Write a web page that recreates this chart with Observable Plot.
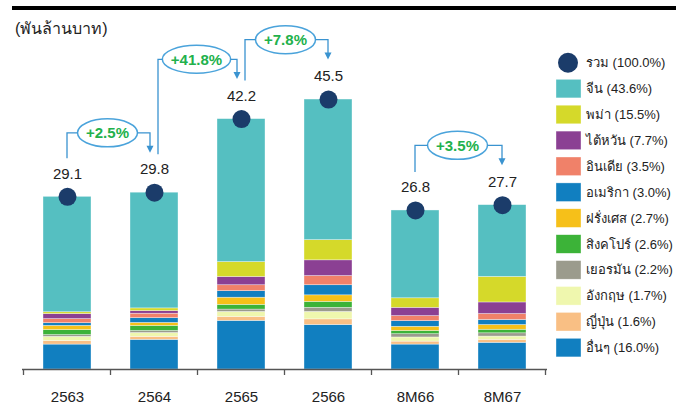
<!DOCTYPE html>
<html><head><meta charset="utf-8">
<script src="https://cdn.jsdelivr.net/npm/d3@7"></script>
<script src="https://cdn.jsdelivr.net/npm/@observablehq/plot@0.6"></script>
<style>
body{margin:0;background:#fff;}
#chart{position:relative;width:680px;height:406px;overflow:hidden;}
</style></head><body><div id="chart"></div>
<script>
// ---- data ----
const years = ["2563", "2564", "2565", "2566", "8M66", "8M67"];
const totals = [29.1, 29.8, 42.2, 45.5, 26.8, 27.7];

// stacked from bottom to top
const seriesNames = ["อื่นๆ", "ญี่ปุ่น", "อังกฤษ", "เยอรมัน", "สิงคโปร์", "ฝรั่งเศส", "อเมริกา", "อินเดีย", "ไต้หวัน", "พม่า", "จีน"];
const others    = [4.2, 5.0, 8.2, 7.5, 4.2, 4.5];
const japan     = [0.6, 0.5, 0.65, 0.95, 0.5, 0.5];
const uk        = [0.7, 0.65, 0.85, 1.25, 0.7, 0.55];
const germany   = [0.3, 0.35, 0.4, 0.7, 0.55, 0.55];
const singapore = [0.85, 0.85, 0.8, 1.0, 0.55, 0.6];
const france    = [0.7, 0.5, 1.2, 1.1, 0.7, 0.8];
const usa       = [0.45, 0.8, 1.1, 1.7, 0.95, 0.85];
const india     = [0.7, 0.75, 1.0, 1.55, 0.85, 1.0];
const taiwan    = [0.85, 0.45, 1.4, 2.65, 1.4, 1.95];
const myanmar   = [0.3, 0.45, 2.5, 3.4, 1.6, 4.3];
const china     = [19.45, 19.5, 24.1, 23.7, 14.8, 12.1];
const seriesValues = [others, japan, uk, germany, singapore, france, usa, india, taiwan, myanmar, china];
const seriesColors = ["#117fc0", "#f9bf84", "#eff7ae", "#9b9b8d", "#3cb338", "#f6c019", "#117fc0", "#f08169", "#8b4093", "#d5d92a", "#55bfc1"];
const totalColor = "#1b3c6a";

// legend (top to bottom)
const legendNames = ["รวม", "จีน", "พม่า", "ไต้หวัน", "อินเดีย", "อเมริกา", "ฝรั่งเศส", "สิงคโปร์", "เยอรมัน", "อังกฤษ", "ญี่ปุ่น", "อื่นๆ"];
const legendShares = ["100.0%", "43.6%", "15.5%", "7.7%", "3.5%", "3.0%", "2.7%", "2.6%", "2.2%", "1.7%", "1.6%", "16.0%"];

// growth annotations
const growthFrom = ["2563", "2564", "2565", "8M66"];
const growthTo   = ["2564", "2565", "2566", "8M67"];
const growthText = ["+2.5%", "+41.8%", "+7.8%", "+3.5%"];

const unitLabel = "(พันล้านบาท)";

// ---- build ----
const long = [];
seriesNames.forEach((s, i) => years.forEach((y, j) => long.push({year: y, series: s, value: seriesValues[i][j]})));
const totalData = years.map((y, j) => ({year: y, total: totals[j]}));

const FONT = "'Liberation Sans', Arial, 'Noto Sans', sans-serif";

const plot = Plot.plot({
  width: 680, height: 406,
  marginLeft: 22, marginRight: 133, marginTop: 13, marginBottom: 37,
  x: {domain: years, paddingInner: 0.45, paddingOuter: 0.225, label: null, tickSize: 0, tickPadding: 22},
  y: {domain: [0, 60], axis: null},
  color: {domain: seriesNames, range: seriesColors},
  style: {fontFamily: FONT, fontSize: "15px", color: "#222", background: "white"},
  marks: [
    Plot.barY(long, {x: "year", y: "value", fill: "series", order: seriesNames, stroke: "white", strokeWidth: 0.6, strokeOpacity: 0.6}),
    Plot.ruleY([0], {stroke: "#555", strokeWidth: 1.3}),
    Plot.dot(totalData, {x: "year", y: "total", r: 9, fill: totalColor}),
    Plot.text(totalData, {x: "year", y: "total", text: d => d.total.toFixed(1), dy: -23, fontSize: 15, fill: "#222"})
  ]
});
document.getElementById("chart").appendChild(plot);

const svg = d3.select(plot);
const xs = plot.scale("x"), ys = plot.scale("y"), cs = plot.scale("color");
const bw = xs.bandwidth, step = xs.step;
const cx = v => xs.apply(v) + bw / 2;
const yv = v => ys.apply(v);
const totalOf = k => totals[years.indexOf(k)];

// band-boundary ticks
const y0 = yv(0);
const bounds = years.map(k => xs.apply(k) - (step - bw) / 2);
bounds.push(bounds[bounds.length - 1] + step);
svg.append("g").selectAll("line").data(bounds).join("line")
  .attr("x1", d => d).attr("x2", d => d).attr("y1", y0).attr("y2", y0 + 6)
  .attr("stroke", "#555").attr("stroke-width", 1.3);

// header bar + unit label
svg.append("rect").attr("x", 12).attr("y", 6).attr("width", 664).attr("height", 4).attr("fill", "#000");
svg.append("text").attr("x", 15).attr("y", 28).attr("dy", "0.35em").attr("text-anchor", "start")
  .attr("font-size", 16).attr("fill", "#222").text(unitLabel);

// growth brackets
const lineColor = "#3a93d0";
const ga = svg.append("g");
growthFrom.forEach((f, i) => {
  const t = growthTo[i];
  const fromIsTarget = growthTo.includes(f);
  const toIsSource = growthFrom.includes(t);
  const xA = cx(f) + (fromIsTarget ? 4 : 0);
  const xB = cx(t) - (toIsSource ? 4 : 0);
  const level = yv(Math.max(totalOf(f), totalOf(t)) + 10);
  const yA = yv(totalOf(f)) - 38;
  const yB = yv(totalOf(t)) - 39.5;
  const mx = (xA + xB) / 2 - 1;
  const label = ga.append("text").attr("x", mx).attr("y", level).attr("dy", "0.36em")
    .attr("text-anchor", "middle").attr("font-size", 15).attr("font-weight", "bold")
    .attr("fill", "#22b14c").text(growthText[i]);
  const w = label.node().getComputedTextLength();
  const rx = w / 2 + 8.5, ry = 14;
  ga.append("path").attr("fill", "none").attr("stroke", lineColor).attr("stroke-width", 1.3)
    .attr("d", `M${xA},${yA}V${level}H${mx - rx}M${mx + rx},${level}H${xB}V${yB - 6}`);
  ga.append("path").attr("fill", lineColor)
    .attr("d", `M${xB - 3.5},${yB - 7}L${xB + 3.5},${yB - 7}L${xB},${yB}Z`);
  ga.insert("ellipse", "text").attr("cx", mx).attr("cy", level).attr("rx", rx).attr("ry", ry)
    .attr("fill", "white").attr("stroke", "#4aa3db").attr("stroke-width", 1.5);
  label.raise();
});

// legend
const lg = svg.append("g").attr("text-anchor", "start");
legendNames.forEach((n, i) => {
  const yy = 62.7 + i * 25.9;
  if (i === 0) {
    lg.append("circle").attr("cx", 568).attr("cy", yy).attr("r", 10).attr("fill", totalColor);
  } else {
    lg.append("rect").attr("x", 556).attr("y", yy - 9.3).attr("width", 25).attr("height", 18.6)
      .attr("fill", cs.apply(n)).attr("stroke", "white").attr("stroke-opacity", 0.6).attr("stroke-width", 0.6);
  }
  lg.append("text").attr("x", 586).attr("y", yy).attr("dy", "0.35em").attr("text-anchor", "start")
    .attr("font-size", 13).attr("fill", "#222").text(`${n} (${legendShares[i]})`);
});
</script></body></html>
